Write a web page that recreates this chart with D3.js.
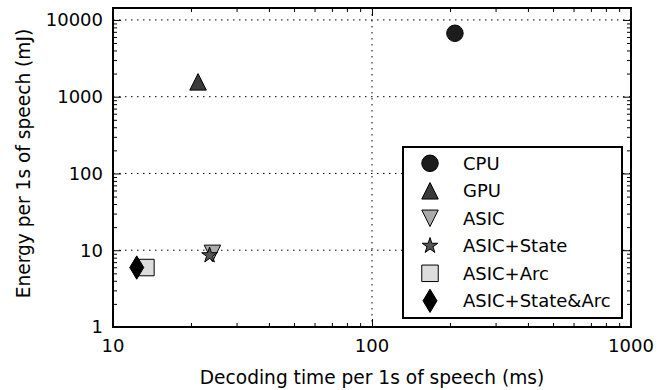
<!DOCTYPE html>
<html>
<head>
<meta charset="utf-8">
<script src="https://cdn.jsdelivr.net/npm/d3@7"></script>
<style>
  body { margin: 0; background: #fff; }
  text { font-family: 'DejaVu Sans', sans-serif; }
</style>
</head>
<body>
<div id="chart"></div>
<script>
// series
const seriesNames = ['CPU', 'GPU', 'ASIC', 'ASIC+State', 'ASIC+Arc', 'ASIC+State&Arc'];
const decodeTimeMs = [209, 21.3, 24.2, 23.6, 13.4, 12.35];
const energyMj = [6700, 1560, 9.1, 8.6, 5.95, 5.95];
const markerShapes = ['circle', 'triangleUp', 'triangleDown', 'star', 'square', 'thinDiamond'];
const markerFills = ['#1c1c1c', '#3a3a3a', '#aaaaaa', '#555555', '#dddddd', '#000000'];
const xTickValues = [10, 100, 1000];
const yTickValues = [1, 10, 100, 1000, 10000];

const width = 672;
const height = 390;
const margin = { top: 8, right: 41, bottom: 63, left: 113 };
const plotW = width - margin.left - margin.right;
const plotH = height - margin.top - margin.bottom;
const fontSize = 18;
const titleSize = 18.6;
const markerSize = 16.5;

const svg = d3.select('#chart').append('svg')
    .attr('width', width)
    .attr('height', height);

const g = svg.append('g')
    .attr('transform', 'translate(' + margin.left + ',' + margin.top + ')');

const x = d3.scaleLog().domain([10, 1000]).range([0, plotW]);
const y = d3.scaleLog().domain([1, 14300]).range([plotH, 0]);

// minor tick values for each decade
function minorTicks(lo, hi) {
    const out = [];
    for (let d = lo; d < hi; d *= 10) {
        for (let k = 2; k <= 9; k++) {
            if (d * k <= hi) out.push(d * k);
        }
    }
    return out;
}
const xMinor = minorTicks(10, 1000);
const yMinor = minorTicks(1, 14300);

// dotted grid at major ticks
g.append('g').selectAll('line')
    .data(xTickValues.slice(1, -1))
    .enter().append('line')
    .attr('x1', d => x(d)).attr('x2', d => x(d))
    .attr('y1', 0).attr('y2', plotH)
    .attr('stroke', '#000').attr('stroke-width', 1)
    .attr('stroke-dasharray', '1.5,4.5');
g.append('g').selectAll('line')
    .data(yTickValues.slice(1))
    .enter().append('line')
    .attr('x1', 0).attr('x2', plotW)
    .attr('y1', d => y(d)).attr('y2', d => y(d))
    .attr('stroke', '#000').attr('stroke-width', 1)
    .attr('stroke-dasharray', '1.5,4.5');

// inward ticks on all four sides
function drawTicks(axisGen, transform, values, size) {
    const ax = g.append('g')
        .attr('transform', transform)
        .call(axisGen.tickValues(values).tickSize(size).tickFormat(''));
    ax.select('.domain').remove();
    ax.selectAll('line').attr('stroke', '#000').attr('stroke-width', 1);
}
drawTicks(d3.axisTop(x), 'translate(0,' + plotH + ')', xTickValues, 8);
drawTicks(d3.axisTop(x), 'translate(0,' + plotH + ')', xMinor, 4);
drawTicks(d3.axisBottom(x), 'translate(0,0)', xTickValues, 8);
drawTicks(d3.axisBottom(x), 'translate(0,0)', xMinor, 4);
drawTicks(d3.axisRight(y), 'translate(0,0)', yTickValues, 8);
drawTicks(d3.axisRight(y), 'translate(0,0)', yMinor, 4);
drawTicks(d3.axisLeft(y), 'translate(' + plotW + ',0)', yTickValues, 8);
drawTicks(d3.axisLeft(y), 'translate(' + plotW + ',0)', yMinor, 4);

// tick labels
g.append('g').selectAll('text')
    .data(xTickValues)
    .enter().append('text')
    .attr('x', d => x(d))
    .attr('y', plotH + 25)
    .attr('text-anchor', 'middle')
    .attr('font-size', fontSize)
    .text(d => d);
g.append('g').selectAll('text')
    .data(yTickValues)
    .enter().append('text')
    .attr('x', -10)
    .attr('y', d => y(d))
    .attr('dy', '0.36em')
    .attr('text-anchor', 'end')
    .attr('font-size', fontSize)
    .text(d => d);

// frame
g.append('rect')
    .attr('width', plotW).attr('height', plotH)
    .attr('fill', 'none')
    .attr('stroke', '#000').attr('stroke-width', 2);

// axis titles
svg.append('text')
    .attr('x', margin.left + plotW / 2)
    .attr('y', 384)
    .attr('text-anchor', 'middle')
    .attr('font-size', titleSize)
    .text('Decoding time per 1s of speech (ms)');
svg.append('text')
    .attr('transform', 'translate(29.5,' + (margin.top + plotH / 2 - 4) + ') rotate(-90)')
    .attr('text-anchor', 'middle')
    .attr('font-size', titleSize)
    .text('Energy per 1s of speech (mJ)');

// matplotlib-like marker outlines
function markerPath(shape, ms) {
    const h = ms / 2;
    if (shape === 'circle') {
        return d3.symbol().type(d3.symbolCircle).size(Math.PI * h * h)();
    }
    let pts;
    if (shape === 'triangleUp') pts = [[0, -h], [-h, h], [h, h]];
    if (shape === 'triangleDown') pts = [[0, h], [-h, -h], [h, -h]];
    if (shape === 'square') pts = [[-h, -h], [h, -h], [h, h], [-h, h]];
    if (shape === 'thinDiamond') {
        const r = h * Math.SQRT2;
        pts = [[0, -r], [0.6 * r, 0], [0, r], [-0.6 * r, 0]];
    }
    if (shape === 'star') {
        pts = [];
        for (let k = 0; k < 10; k++) {
            const rr = k % 2 === 0 ? h : h * 0.381966;
            const a = -Math.PI / 2 + k * Math.PI / 5;
            pts.push([rr * Math.cos(a), rr * Math.sin(a)]);
        }
    }
    return 'M' + pts.map(p => p.join(',')).join('L') + 'Z';
}

function drawMarker(sel, shape, fill) {
    return sel.append('path')
        .attr('d', markerPath(shape, markerSize))
        .attr('fill', fill)
        .attr('stroke', '#000')
        .attr('stroke-width', 1);
}

const points = g.append('g').selectAll('g')
    .data(seriesNames.map((name, i) => ({ name, i })))
    .enter().append('g')
    .attr('transform', d => 'translate(' + x(decodeTimeMs[d.i]) + ',' + y(energyMj[d.i]) + ')');
points.each(function (d) {
    drawMarker(d3.select(this), markerShapes[d.i], markerFills[d.i]);
});

// legend
const legend = svg.append('g');
legend.append('rect')
    .attr('x', 403).attr('y', 147)
    .attr('width', 219).attr('height', 171)
    .attr('fill', '#fff')
    .attr('stroke', '#000').attr('stroke-width', 2);
const rowH = 27.5;
seriesNames.forEach((name, i) => {
    const row = legend.append('g')
        .attr('transform', 'translate(430,' + (163.3 + i * rowH) + ')');
    drawMarker(row, markerShapes[i], markerFills[i]);
    row.append('text')
        .attr('x', 33)
        .attr('dy', '0.36em')
        .attr('font-size', fontSize)
        .text(name);
});
</script>
</body>
</html>
